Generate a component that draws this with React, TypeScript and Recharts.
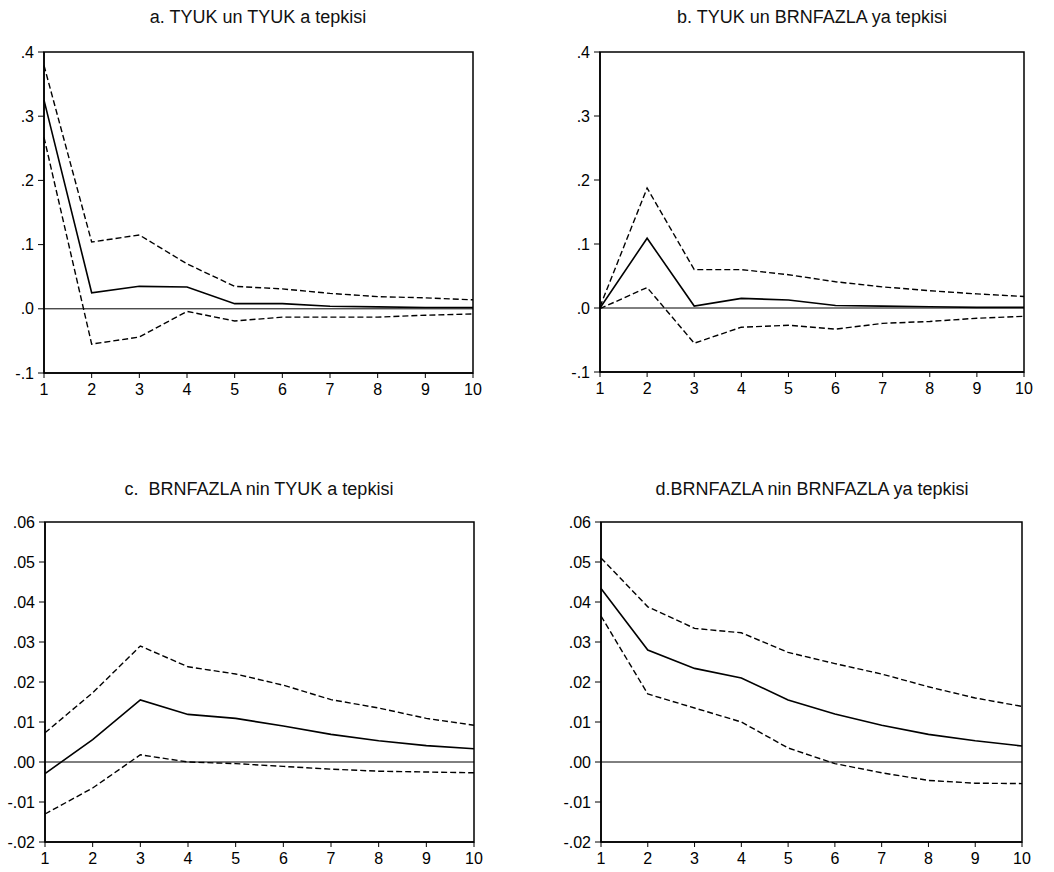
import React from 'react';
import { LineChart, Line, XAxis, YAxis, ReferenceLine, ReferenceArea } from 'recharts';

const periods = [1, 2, 3, 4, 5, 6, 7, 8, 9, 10];

// a. TYUK -> TYUK
const aMid = [0.325, 0.025, 0.035, 0.034, 0.008, 0.008, 0.004, 0.003, 0.002, 0.002];
const aUp = [0.379, 0.104, 0.115, 0.07, 0.035, 0.031, 0.024, 0.019, 0.017, 0.014];
const aLo = [0.267, -0.055, -0.044, -0.004, -0.019, -0.013, -0.013, -0.013, -0.01, -0.008];

// b. TYUK -> BRNFAZLA
const bMid = [0.0, 0.109, 0.003, 0.015, 0.0125, 0.004, 0.003, 0.002, 0.001, 0.001];
const bUp = [0.002, 0.1875, 0.06, 0.06, 0.052, 0.041, 0.033, 0.027, 0.022, 0.018];
const bLo = [-0.001, 0.032, -0.055, -0.03, -0.027, -0.033, -0.024, -0.021, -0.016, -0.013];

// c. BRNFAZLA -> TYUK
const cMid = [-0.0029, 0.0056, 0.0155, 0.0119, 0.0109, 0.009, 0.0069, 0.0053, 0.0041, 0.0033];
const cUp = [0.0073, 0.0173, 0.029, 0.0238, 0.022, 0.0192, 0.0156, 0.0135, 0.0109, 0.0092];
const cLo = [-0.013, -0.0065, 0.0018, 0.0, -0.0004, -0.0011, -0.0018, -0.0023, -0.0025, -0.0027];

// d. BRNFAZLA -> BRNFAZLA
const dMid = [0.0434, 0.028, 0.0234, 0.021, 0.0155, 0.012, 0.0092, 0.0069, 0.0053, 0.004];
const dUp = [0.051, 0.0388, 0.0334, 0.0323, 0.0274, 0.0246, 0.022, 0.0188, 0.016, 0.0139];
const dLo = [0.0365, 0.017, 0.0135, 0.01, 0.0035, -0.0004, -0.0027, -0.0046, -0.0053, -0.0054];

const ticksTop = [-0.1, 0, 0.1, 0.2, 0.3, 0.4];
const ticksBottom = [-0.02, -0.01, 0, 0.01, 0.02, 0.03, 0.04, 0.05, 0.06];

const font = '"Liberation Sans", Arial, Helvetica, sans-serif';

const fmt = (decimals: number) => (v: number) => {
  const s = Math.abs(v) < 1e-9 ? (0).toFixed(decimals) : v.toFixed(decimals);
  return s.replace(/^(-?)0\./, '$1.');
};

interface PanelProps {
  title: string;
  mid: number[];
  up: number[];
  lo: number[];
  ticks: number[];
  decimals: number;
  left: number;
  top: number;
  width: number;
  height: number;
  margin: { top: number; right: number; bottom: number; left: number };
  yWidth: number;
  titleTop: number;
  titleCenter: number;
}

const Panel = (p: PanelProps) => {
  const data = periods.map((period, i) => ({ period, mid: p.mid[i], up: p.up[i], lo: p.lo[i] }));
  const yMin = p.ticks[0];
  const yMax = p.ticks[p.ticks.length - 1];
  const tickStyle = { fill: '#000', fontSize: 16, fontFamily: font };
  return (
    <>
      <div
        style={{
          position: 'absolute',
          left: p.titleCenter - 250,
          width: 500,
          top: p.titleTop,
          textAlign: 'center',
          fontFamily: font,
          fontSize: 18,
          color: '#111',
          whiteSpace: 'pre',
        }}
      >
        {p.title}
      </div>
      <div style={{ position: 'absolute', left: p.left, top: p.top }}>
        <LineChart width={p.width} height={p.height} data={data} margin={p.margin}>
          <XAxis
            dataKey="period"
            type="number"
            domain={[1, 10]}
            ticks={periods}
            interval={0}
            height={30}
            tickSize={5}
            tickMargin={6}
            tick={tickStyle}
            axisLine={{ stroke: '#000', strokeWidth: 1.5 }}
            tickLine={{ stroke: '#000' }}
          />
          <YAxis
            type="number"
            domain={[yMin, yMax]}
            ticks={p.ticks}
            interval={0}
            width={p.yWidth}
            tickSize={6}
            tickMargin={4}
            tickFormatter={fmt(p.decimals)}
            tick={tickStyle}
            axisLine={{ stroke: '#000', strokeWidth: 1.5 }}
            tickLine={{ stroke: '#000' }}
          />
          <ReferenceArea x1={1} x2={10} y1={yMin} y2={yMax} fill="none" stroke="#000" strokeWidth={1.5} />
          <ReferenceLine y={0} stroke="#000" strokeWidth={1} />
          <Line dataKey="up" stroke="#000" strokeWidth={1.4} strokeDasharray="6 3" dot={false} isAnimationActive={false} />
          <Line dataKey="lo" stroke="#000" strokeWidth={1.4} strokeDasharray="6 3" dot={false} isAnimationActive={false} />
          <Line dataKey="mid" stroke="#000" strokeWidth={1.6} dot={false} isAnimationActive={false} />
        </LineChart>
      </div>
    </>
  );
};

export default function App() {
  return (
    <div style={{ position: 'absolute', left: 0, top: 0, width: 1054, height: 872, background: '#fff' }}>
      <Panel
        title="a. TYUK un TYUK a tepkisi"
        mid={aMid}
        up={aUp}
        lo={aLo}
        ticks={ticksTop}
        decimals={1}
        left={0}
        top={40}
        width={490}
        height={370}
        margin={{ top: 12, right: 17, bottom: 7, left: 0 }}
        yWidth={44}
        titleTop={7}
        titleCenter={258}
      />
      <Panel
        title="b. TYUK un BRNFAZLA ya tepkisi"
        mid={bMid}
        up={bUp}
        lo={bLo}
        ticks={ticksTop}
        decimals={1}
        left={520}
        top={40}
        width={520}
        height={370}
        margin={{ top: 12, right: 16, bottom: 8, left: 36 }}
        yWidth={44}
        titleTop={7}
        titleCenter={812}
      />
      <Panel
        title="c.  BRNFAZLA nin TYUK a tepkisi"
        mid={cMid}
        up={cUp}
        lo={cLo}
        ticks={ticksBottom}
        decimals={2}
        left={0}
        top={510}
        width={490}
        height={362}
        margin={{ top: 12, right: 16, bottom: 0, left: 0 }}
        yWidth={45}
        titleTop={479}
        titleCenter={259}
      />
      <Panel
        title="d.BRNFAZLA nin BRNFAZLA ya tepkisi"
        mid={dMid}
        up={dUp}
        lo={dLo}
        ticks={ticksBottom}
        decimals={2}
        left={520}
        top={510}
        width={520}
        height={362}
        margin={{ top: 12, right: 18, bottom: 0, left: 36 }}
        yWidth={45}
        titleTop={479}
        titleCenter={812}
      />
    </div>
  );
}
